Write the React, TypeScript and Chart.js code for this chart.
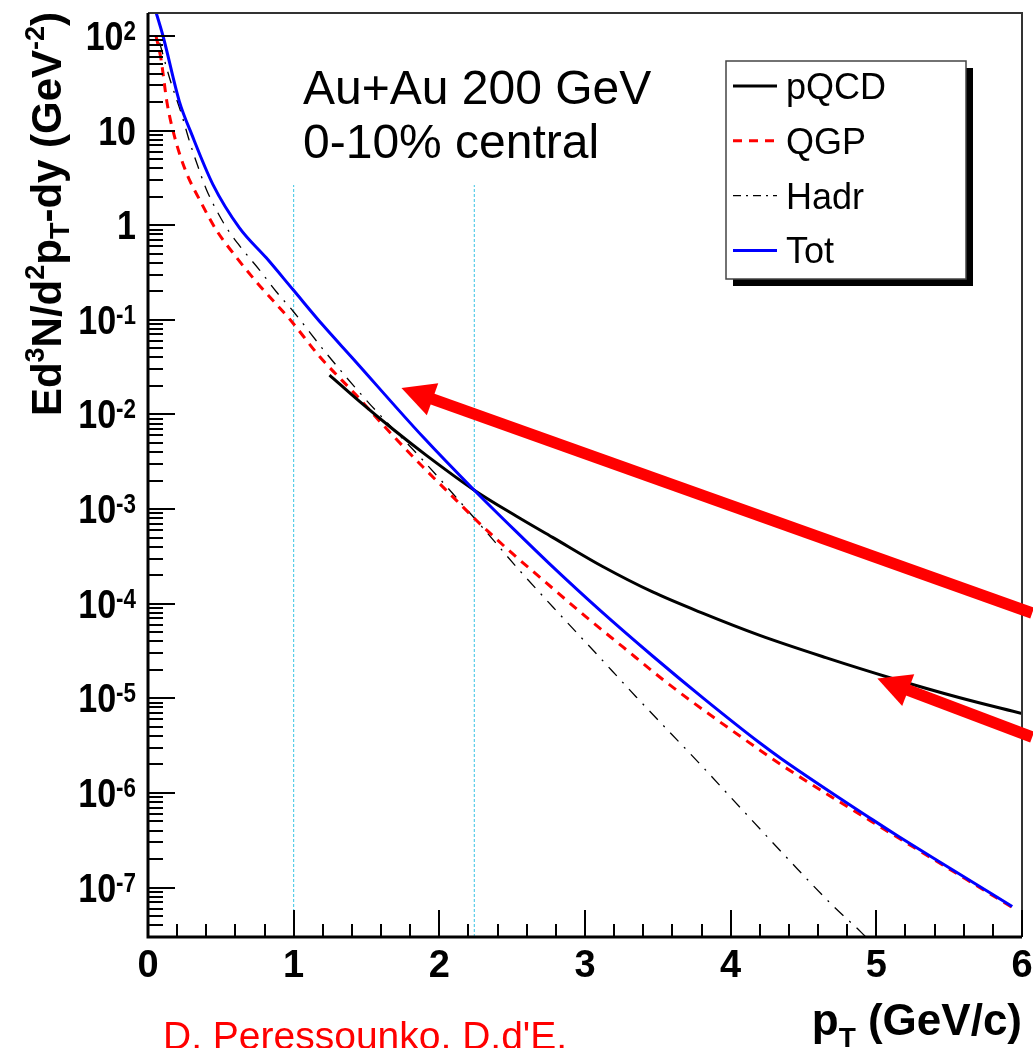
import React, { useEffect, useRef } from "react";
import { Chart, registerables } from "chart.js";

Chart.register(...registerables);

// ---------------- data ----------------
const totX = [0.045, 0.103, 0.215, 0.303, 0.446, 0.629, 0.812, 0.995, 1.2, 1.4, 1.887, 2.24, 2.549, 2.755, 3.098, 3.464, 3.818, 4.194, 4.355, 4.973, 5.156, 5.5, 5.933];
const totY = [200, 100, 20.4, 8.9, 2.69, 0.933, 0.452, 0.209, 0.088, 0.04, 5.8e-3, 1.58e-3, 5.36e-4, 2.65e-4, 8.65e-5, 2.8e-5, 9.86e-6, 3.43e-6, 2.26e-6, 5.22e-7, 3.44e-7, 1.62e-7, 6.3e-8];

const qgpX = [0.055, 0.09, 0.13, 0.18, 0.26, 0.355, 0.469, 0.606, 0.743, 0.881, 0.972, 1.178, 1.429, 1.646, 1.886, 2.115, 2.252, 2.527, 2.687, 3.007, 3.258, 3.532, 3.715, 4.194, 4.367, 5.156, 5.38, 5.933];
const qgpY = [100, 56, 20, 8.9, 3.7, 1.85, 0.89, 0.46, 0.253, 0.146, 0.102, 0.041, 0.016, 6.84e-3, 2.8e-3, 1.245e-3, 7.66e-4, 3.13e-4, 1.92e-4, 7.26e-5, 3.51e-5, 1.59e-5, 9.7e-6, 2.88e-6, 1.89e-6, 3.31e-7, 2.04e-7, 6.17e-8];

const hadrX = [0.08, 0.149, 0.229, 0.286, 0.343, 0.4, 0.469, 0.549, 0.652, 0.766, 0.881, 0.995, 1.224, 1.498, 1.886, 2.252, 2.549, 2.778, 3.075, 3.35, 3.807, 4.081, 4.401, 4.698, 4.893, 5.0];
const hadrY = [85, 35.5, 15.1, 7.6, 4.17, 2.4, 1.45, 0.89, 0.547, 0.336, 0.198, 0.124, 0.0443, 0.0142, 3.3e-3, 7.66e-4, 2.26e-4, 9.27e-5, 2.99e-5, 1.04e-5, 1.89e-6, 6.6e-7, 1.95e-7, 6.5e-8, 3.4e-8, 2.3e-8];

const pqcdX = [1.246, 1.452, 1.68, 1.909, 2.24, 2.527, 2.778, 3.121, 3.464, 3.807, 4.2, 4.653, 5.11, 5.567, 6.0];
const pqcdY = [0.0261, 0.01374, 7.02e-3, 3.72e-3, 1.585e-3, 8.45e-4, 5.02e-4, 2.47e-4, 1.33e-4, 7.94e-5, 4.62e-5, 2.69e-5, 1.62e-5, 1.02e-5, 6.9e-6];

// vertical guide lines
const guideX = [1, 2.24];
const guideTop = 2.66;

// arrows (data coordinates)
const arrowTailX = [6.07, 6.07];
const arrowTailY = [7.96e-5, 3.89e-6];
const arrowTipX = [1.74, 5.007];
const arrowTipY = [0.019, 1.62e-5];

// axes
const X_MIN = 0;
const X_MAX = 6;
const Y_MIN = 3e-8;
const Y_MAX = 175;
const xTickLabels = ["0", "1", "2", "3", "4", "5", "6"];
const yTickExponents = [-7, -6, -5, -4, -3, -2, -1, 0, 1, 2];

const legendOrder = ["pQCD", "QGP", "Hadr", "Tot"];

const FONT = "'Liberation Sans', Arial, Helvetica, sans-serif";

type Seg = { t: string; size: number; dy?: number };

function segWidth(ctx: CanvasRenderingContext2D, segs: Seg[], bold: boolean) {
  let w = 0;
  for (const s of segs) {
    ctx.font = `${bold ? "bold " : ""}${s.size}px ${FONT}`;
    w += ctx.measureText(s.t).width;
  }
  return w;
}

function drawSegs(ctx: CanvasRenderingContext2D, segs: Seg[], x: number, y: number, bold: boolean) {
  let cx = x;
  ctx.textAlign = "left";
  ctx.textBaseline = "alphabetic";
  for (const s of segs) {
    ctx.font = `${bold ? "bold " : ""}${s.size}px ${FONT}`;
    ctx.fillText(s.t, cx, y + (s.dy || 0));
    cx += ctx.measureText(s.t).width;
  }
}

function toPts(xs: number[], ys: number[]) {
  return xs.map((x, i) => ({ x, y: ys[i] }));
}

const rootPlugin = {
  id: "rootStyle",
  afterDatasetsDraw(chart: any) {
    const { ctx, chartArea: a, scales } = chart;
    const xs = scales.x;
    const ys = scales.y;
    ctx.save();

    // frame (top/right)
    ctx.strokeStyle = "#333";
    ctx.lineWidth = 2;
    ctx.setLineDash([]);
    ctx.beginPath();
    ctx.moveTo(a.left, a.top);
    ctx.lineTo(a.right, a.top);
    ctx.lineTo(a.right, a.bottom);
    ctx.stroke();

    // axes lines
    ctx.strokeStyle = "#000";
    ctx.lineWidth = 3;
    ctx.beginPath();
    ctx.moveTo(a.left, a.top);
    ctx.lineTo(a.left, a.bottom);
    ctx.lineTo(a.right, a.bottom);
    ctx.stroke();

    // x ticks
    ctx.lineWidth = 2;
    ctx.beginPath();
    for (let i = 0; i <= 30; i++) {
      const v = X_MIN + i * 0.2;
      const px = Math.round(xs.getPixelForValue(v));
      const len = i % 5 === 0 ? 27 : 13;
      ctx.moveTo(px, a.bottom);
      ctx.lineTo(px, a.bottom - len);
    }
    ctx.stroke();

    // y ticks
    ctx.beginPath();
    for (let n = -8; n <= 2; n++) {
      for (let k = 1; k <= 9; k++) {
        const v = k * Math.pow(10, n);
        if (v < Y_MIN || v > Y_MAX) continue;
        const py = Math.round(ys.getPixelForValue(v));
        const len = k === 1 ? 27 : 15;
        ctx.moveTo(a.left, py);
        ctx.lineTo(a.left + len, py);
      }
    }
    ctx.stroke();

    // x tick labels
    ctx.fillStyle = "#000";
    ctx.font = `bold 38px ${FONT}`;
    ctx.textAlign = "center";
    ctx.textBaseline = "alphabetic";
    xTickLabels.forEach((lab, i) => {
      const px = xs.getPixelForValue(i);
      ctx.fillText(lab, px, 977);
    });

    // y tick labels
    for (const n of yTickExponents) {
      const py = ys.getPixelForValue(Math.pow(10, n));
      let segs: Seg[];
      if (n === 0) segs = [{ t: "1", size: 41 }];
      else if (n === 1) segs = [{ t: "10", size: 41 }];
      else segs = [{ t: "10", size: 41 }, { t: String(n), size: 27, dy: -10 }];
      ctx.save();
      ctx.translate(136, py + 14);
      ctx.scale(0.83, 1);
      const w = segWidth(ctx, segs, true);
      drawSegs(ctx, segs, -w, 0, true);
      ctx.restore();
    }

    // y axis title (rotated)
    const ySegs: Seg[] = [
      { t: "Ed", size: 42 },
      { t: "3", size: 27, dy: -17 },
      { t: "N/d", size: 42 },
      { t: "2", size: 27, dy: -17 },
      { t: "p", size: 42 },
      { t: "T", size: 27, dy: 8 },
      { t: "-dy (GeV", size: 42 },
      { t: "-2", size: 27, dy: -17 },
      { t: ")", size: 42 },
    ];
    ctx.save();
    ctx.translate(61, 214);
    ctx.rotate(-Math.PI / 2);
    const yw = segWidth(ctx, ySegs, true);
    drawSegs(ctx, ySegs, -yw / 2, 0, true);
    ctx.restore();

    // x axis title
    const xSegs: Seg[] = [
      { t: "p", size: 44 },
      { t: "T", size: 28, dy: 12 },
      { t: " (GeV/c)", size: 44 },
    ];
    const xw = segWidth(ctx, xSegs, true);
    drawSegs(ctx, xSegs, a.right - xw, 1035, true);

    // annotation text
    ctx.fillStyle = "#000";
    ctx.font = `48px ${FONT}`;
    ctx.textAlign = "left";
    ctx.fillText("Au+Au 200 GeV", 303, 104);
    ctx.fillText("0-10% central", 303, 158);

    // legend
    const lx = 726, ly = 61, lw = 240, lh = 218;
    ctx.fillStyle = "#000";
    ctx.fillRect(lx + 7, ly + 7, lw, lh);
    ctx.fillStyle = "#fff";
    ctx.fillRect(lx, ly, lw, lh);
    ctx.strokeStyle = "#444";
    ctx.lineWidth = 1.5;
    ctx.strokeRect(lx, ly, lw, lh);
    legendOrder.forEach((label, i) => {
      const ds = chart.data.datasets.find((d: any) => d.label === label);
      if (!ds) return;
      const cy = 86 + i * 54.8;
      ctx.save();
      ctx.strokeStyle = ds.borderColor;
      ctx.lineWidth = ds.borderWidth;
      ctx.setLineDash(ds.legendDash || []);
      ctx.beginPath();
      ctx.moveTo(733, cy);
      ctx.lineTo(777, cy);
      ctx.stroke();
      ctx.restore();
      ctx.fillStyle = "#000";
      ctx.font = `36px ${FONT}`;
      ctx.textAlign = "left";
      ctx.fillText(label, 786, cy + 13);
    });

    // arrows
    ctx.fillStyle = "#ff0000";
    ctx.strokeStyle = "#ff0000";
    for (let i = 0; i < arrowTipX.length; i++) {
      const tx = xs.getPixelForValue(arrowTipX[i]);
      const ty = ys.getPixelForValue(arrowTipY[i]);
      const sx = xs.getPixelForValue(arrowTailX[i]);
      const sy = ys.getPixelForValue(arrowTailY[i]);
      const dx = sx - tx, dy = sy - ty;
      const L = Math.hypot(dx, dy);
      const ux = dx / L, uy = dy / L;
      const headLen = 33, halfW = 17;
      const bx = tx + ux * headLen, by = ty + uy * headLen;
      ctx.lineWidth = 11.5;
      ctx.lineCap = "butt";
      ctx.beginPath();
      ctx.moveTo(sx, sy);
      ctx.lineTo(tx + ux * headLen * 0.8, ty + uy * headLen * 0.8);
      ctx.stroke();
      ctx.beginPath();
      ctx.moveTo(tx, ty);
      ctx.lineTo(bx - uy * halfW, by + ux * halfW);
      ctx.lineTo(bx + uy * halfW, by - ux * halfW);
      ctx.closePath();
      ctx.fill();
    }

    // credit
    ctx.fillStyle = "#ff0000";
    ctx.font = `39px ${FONT}`;
    ctx.textAlign = "left";
    ctx.fillText("D. Peressounko, D.d'E.", 163, 1049);

    ctx.restore();
  },
};

export default function App() {
  const ref = useRef<HTMLCanvasElement | null>(null);

  useEffect(() => {
    if (!ref.current) return;
    const guideSets = guideX.map((gx, i) => ({
      label: `guide${i}`,
      data: [
        { x: gx, y: Y_MIN },
        { x: gx, y: guideTop },
      ],
      borderColor: "#38c4e4",
      borderWidth: 1,
      borderDash: [3, 2],
      pointRadius: 0,
      fill: false,
    }));
    const chart = new Chart(ref.current, {
      type: "line",
      data: {
        datasets: [
          {
            label: "Tot",
            data: toPts(totX, totY),
            borderColor: "#0000ff",
            borderWidth: 3,
            pointRadius: 0,
            cubicInterpolationMode: "monotone",
            fill: false,
          },
          {
            label: "pQCD",
            data: toPts(pqcdX, pqcdY),
            borderColor: "#000000",
            borderWidth: 3,
            pointRadius: 0,
            cubicInterpolationMode: "monotone",
            fill: false,
          },
          {
            label: "QGP",
            data: toPts(qgpX, qgpY),
            borderColor: "#ff0000",
            borderWidth: 3,
            borderDash: [9, 7],
            legendDash: [9, 7],
            pointRadius: 0,
            cubicInterpolationMode: "monotone",
            fill: false,
          },
          {
            label: "Hadr",
            data: toPts(hadrX, hadrY),
            borderColor: "#000000",
            borderWidth: 1.3,
            borderDash: [12, 8, 2, 8],
            legendDash: [8, 5, 2, 5],
            pointRadius: 0,
            cubicInterpolationMode: "monotone",
            fill: false,
          },
          ...guideSets,
        ] as any,
      },
      options: {
        animation: false,
        responsive: false,
        devicePixelRatio: 1,
        layout: { padding: { left: 148, top: 13, right: 11, bottom: 111 } },
        plugins: { legend: { display: false }, tooltip: { enabled: false } },
        elements: { line: { tension: 0 } },
        scales: {
          x: { type: "linear", min: X_MIN, max: X_MAX, display: false },
          y: { type: "logarithmic", min: Y_MIN, max: Y_MAX, display: false },
        },
      } as any,
      plugins: [rootPlugin],
    });
    return () => chart.destroy();
  }, []);

  return (
    <div style={{ position: "absolute", left: 0, top: 0, width: 1033, height: 1048, background: "#fff", overflow: "hidden" }}>
      <canvas ref={ref} width={1033} height={1048} style={{ display: "block" }} />
    </div>
  );
}
